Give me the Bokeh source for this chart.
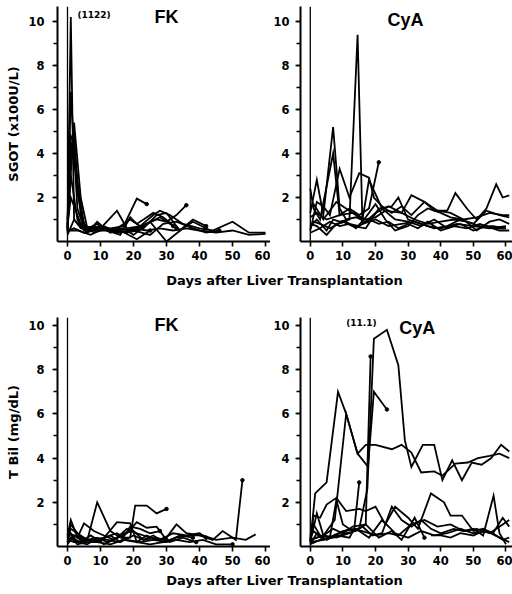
from bokeh.plotting import figure
from bokeh.layouts import column, row
from bokeh.models import Range1d, FixedTicker, Label, Span
from bokeh.embed import file_html
from bokeh.resources import INLINE

# ---------------- data ----------------
x_ticks = [0, 10, 20, 30, 40, 50, 60]
y_major = [2, 4, 6, 8, 10]
y_minor = [1, 2, 3, 4, 5, 6, 7, 8, 9, 10]

# SGOT (x100 U/L), FK group
fk_sgot_days = [
    [0, 1, 2, 4, 7, 10, 14, 18, 21],
    [0, 1, 3, 5, 8, 12, 16, 20, 24, 28, 32],
    [0, 2, 4, 6, 9, 13, 17, 21, 24],
    [0, 1, 2, 4, 6, 10, 15, 18, 22, 27, 30, 33, 36],
    [0, 1, 2, 3, 5, 8, 11, 14, 18, 22, 26, 28, 31, 35, 40, 44, 50, 55, 60],
    [0, 1, 3, 5, 9, 13, 17, 20, 25, 30, 35, 38, 42],
    [0, 2, 5, 8, 12, 16, 20, 24, 28, 32, 36, 40, 45, 50, 55, 60],
    [0, 1, 4, 7, 10, 14, 19, 23, 27, 30, 34, 38, 42],
    [0, 2, 6, 9, 12, 16, 19, 21, 26, 29, 33],
    [0, 3, 7, 11, 15, 20, 25, 29, 33, 38, 42, 46],
    [0, 1, 2, 5, 8, 12, 16, 21, 25],
]
fk_sgot_vals = [
    [0.6, 10.2, 1.0, 0.6, 0.5, 0.6, 0.5, 0.4, 0.5],
    [0.5, 6.8, 1.5, 0.6, 0.7, 0.5, 0.6, 0.5, 0.8, 1.1, 0.7],
    [0.8, 5.4, 2.0, 0.6, 0.5, 0.6, 0.7, 1.95, 1.7],
    [0.5, 4.8, 4.5, 1.2, 0.5, 0.6, 1.4, 0.6, 0.7, 1.0, 0.9, 1.2, 1.65],
    [0.4, 4.0, 4.9, 2.2, 0.7, 0.6, 0.7, 0.5, 0.4, 0.7, 1.2, 1.4, 1.2, 0.8, 0.6, 0.5, 0.9, 0.4, 0.4],
    [0.6, 3.0, 1.0, 0.5, 0.8, 0.4, 0.6, 0.3, 0.9, 0.0, 0.6, 0.9, 0.6],
    [0.5, 0.6, 0.4, 0.5, 0.5, 0.4, 0.6, 0.5, 0.6, 0.5, 0.6, 0.5, 0.4, 0.5, 0.3, 0.35],
    [0.7, 2.0, 0.8, 0.6, 0.7, 0.5, 1.0, 0.6, 1.2, 1.3, 0.5, 1.0, 0.7],
    [0.3, 1.0, 0.4, 0.9, 0.5, 0.3, 1.1, 0.8, 1.3, 1.1, 0.6],
    [0.5, 0.5, 0.3, 0.6, 0.4, 0.5, 0.3, 0.8, 0.9, 0.6, 0.4, 0.5],
    [1.0, 4.5, 3.6, 0.8, 0.4, 0.6, 0.5, 0.1, 0.5],
]

# SGOT (x100 U/L), CyA group
cya_sgot_days = [
    [0, 2, 5, 7, 9, 12, 14.5, 16, 20, 24, 28, 32, 36, 40, 45, 50, 55, 60],
    [0, 2, 4, 7, 9, 11, 14, 17, 20, 24, 28, 32, 36, 40, 44, 48, 52, 56, 60],
    [0, 1, 3, 5, 7, 9, 12, 15, 18, 21],
    [0, 2, 4, 6, 9, 12, 15, 18, 19.5, 22, 25, 28, 31, 35, 38, 42, 44.5, 48, 51, 54, 57, 59, 61],
    [0, 1, 3, 6, 10, 13, 17, 21, 25, 27, 30, 34, 38, 42, 46, 50, 54, 58, 61],
    [0, 2, 5, 8, 11, 14, 17, 20, 23, 26, 30, 33, 36, 40, 43, 47, 51, 55, 58, 61],
    [0, 1, 4, 8, 12, 16, 18, 22, 26, 30, 34, 38, 42, 46, 50, 54, 58, 61],
    [0, 3, 6, 9, 12, 15, 18, 21, 24, 27, 30, 33, 36, 40, 44, 48, 52, 56, 60],
    [0, 2, 5, 9, 13, 17, 20, 23, 28, 31, 35, 39, 43, 47, 51, 55, 59, 61],
]
cya_sgot_vals = [
    [0.7, 1.0, 0.5, 1.0, 0.9, 1.0, 9.4, 0.8, 1.0, 0.7, 0.8, 0.9, 0.7, 0.6, 0.8, 0.7, 0.6, 0.7],
    [1.3, 2.8, 1.2, 5.2, 1.5, 1.0, 1.1, 0.9, 1.3, 1.6, 1.3, 1.0, 0.8, 0.9, 1.0, 0.9, 0.7, 0.7, 0.6],
    [2.4, 1.5, 1.0, 2.5, 4.0, 1.2, 1.5, 1.2, 1.5, 3.6],
    [0.5, 1.8, 1.6, 1.2, 3.3, 2.0, 3.1, 2.9, 2.0, 1.6, 1.3, 1.6, 1.2, 1.8, 1.4, 1.4, 2.2, 1.5, 1.0, 1.5, 2.6, 2.0, 2.1],
    [0.6, 0.9, 0.8, 0.6, 0.9, 0.7, 0.6, 1.5, 1.6, 2.0, 1.0, 0.8, 0.6, 0.7, 1.0, 0.8, 1.4, 1.2, 1.1],
    [0.8, 0.7, 0.3, 0.8, 0.9, 0.6, 1.1, 1.7, 1.0, 0.5, 0.7, 1.2, 1.5, 1.3, 1.1, 1.0, 0.5, 0.9, 1.0, 0.8],
    [1.5, 1.7, 1.0, 1.8, 1.4, 1.0, 2.8, 1.5, 1.0, 0.9, 0.7, 1.0, 0.6, 0.8, 0.5, 0.7, 0.5, 0.5],
    [0.4, 0.6, 0.9, 0.7, 0.8, 0.7, 1.0, 0.8, 0.9, 0.6, 0.8, 0.6, 0.9, 0.5, 0.7, 0.6, 0.8, 0.6, 0.6],
    [1.1, 1.3, 1.0, 1.2, 1.3, 1.0, 1.1, 1.4, 1.3, 2.1, 1.8, 1.4, 1.3, 1.0, 1.1, 1.3, 1.2, 1.2],
]

# T Bil (mg/dL), FK group
fk_tbil_days = [
    [0, 1, 3, 5, 8, 11, 14, 18, 21, 24, 27, 30],
    [0, 2, 6, 9, 13, 16, 19, 20.5, 24, 27, 30],
    [0, 1, 4, 7, 10, 15, 19, 21, 24, 27, 30, 33, 36, 40, 44, 47, 51, 53],
    [0, 2, 5, 8, 12, 16, 20, 23, 26, 29, 33, 37, 41, 45, 50, 54, 57],
    [0, 1, 3, 6, 9, 12, 15, 18, 21, 25, 28, 32, 36, 40, 42],
    [0, 2, 4, 7, 11, 14, 17, 20, 23, 27, 31, 35, 39],
    [0, 1, 3, 6, 9, 13, 17, 21, 25, 29, 33, 37, 41, 45, 50],
    [0, 2, 5, 8, 11, 15, 18, 22, 26, 30, 34, 38],
    [0, 1, 4, 7, 10, 13, 16, 19, 22, 25, 28],
]
fk_tbil_vals = [
    [0.5, 1.2, 0.4, 1.05, 0.7, 0.5, 0.3, 0.6, 1.1, 0.85, 0.9, 0.3],
    [0.3, 0.2, 0.3, 2.0, 0.7, 0.4, 0.4, 1.85, 1.85, 1.5, 1.7],
    [0.2, 1.0, 0.4, 0.3, 0.2, 1.1, 1.05, 0.2, 0.5, 0.3, 0.4, 1.0, 0.6, 0.5, 0.3, 0.7, 0.3, 3.0],
    [0.1, 0.5, 0.2, 0.4, 0.3, 0.2, 0.5, 0.3, 0.5, 0.2, 0.4, 0.5, 0.5, 0.3, 0.4, 0.3, 0.55],
    [0.3, 0.6, 0.2, 0.1, 0.4, 0.2, 0.4, 0.8, 0.6, 0.4, 0.3, 0.6, 0.5, 0.6, 0.4],
    [0.8, 0.3, 0.2, 0.5, 0.1, 0.3, 0.6, 0.7, 0.3, 0.4, 0.2, 0.4, 0.2],
    [0.2, 0.4, 0.1, 0.2, 0.2, 0.1, 0.3, 0.2, 0.1, 0.2, 0.3, 0.2, 0.3, 0.1, 0.1],
    [0.6, 0.5, 0.3, 0.3, 0.4, 0.6, 0.3, 0.2, 0.3, 0.2, 0.5, 0.4],
    [0.4, 0.8, 0.5, 0.2, 0.3, 0.5, 0.2, 0.9, 0.8, 0.6, 0.7],
]

# T Bil (mg/dL), CyA group
cya_tbil_days = [
    [0, 4, 8, 12, 15, 17.5, 19.5, 23.5, 27, 29, 31, 34.5, 38, 40.5, 43.5, 46.5, 49.5, 52.5, 55.5, 58.5, 61],
    [0, 1.5, 5, 8.5, 11, 14.5, 17.7, 19.5, 23.5],
    [0, 4, 7.5, 11, 14.5, 17, 20, 25, 28, 31, 34, 38, 40.5, 44.5, 48.3, 51.4, 55, 58, 61],
    [0, 4, 8, 12, 13.5, 15],
    [0, 3, 7, 11, 14, 17, 18.5],
    [0, 1, 3, 5, 8, 11, 15, 17, 20, 23, 26, 30, 33, 37, 41, 43, 46.5, 50, 53, 56, 59, 61],
    [0, 1, 3, 6, 8, 10, 13, 16, 19, 22, 25, 28, 31, 34, 37, 40, 44, 47, 50, 53, 56.2, 58, 60],
    [0, 2, 4, 7, 10, 13, 17, 21, 25, 28, 32, 35],
    [37, 40, 43, 46, 50, 53, 56, 59, 61],
    [0, 2, 5, 9, 12, 16, 20, 24, 27, 31, 35, 39, 43, 47, 51, 55, 59, 61],
    [0, 1, 4, 7, 10, 14, 18, 22, 26, 30, 34, 38, 42, 46, 50, 54, 58, 61],
]
cya_tbil_vals = [
    [0.3, 0.5, 0.4, 0.6, 0.8, 2.6, 9.4, 9.8, 8.2, 4.8, 3.6, 4.6, 4.6, 3.0, 3.9, 3.0, 3.8, 3.7, 4.0, 4.6, 4.3],
    [0.2, 2.4, 2.9, 7.0, 6.0, 4.2, 3.6, 7.0, 6.2],
    [0.3, 0.5, 1.2, 6.0, 4.2, 4.6, 4.6, 4.4, 4.6, 4.25, 3.35, 3.4, 3.2, 3.75, 3.8, 4.0, 4.1, 4.2, 4.0],
    [0.2, 0.3, 0.5, 0.4, 0.8, 2.9],
    [0.1, 0.3, 0.4, 0.6, 0.7, 1.0, 8.6],
    [0.3, 1.4, 1.3, 1.9, 2.2, 1.6, 1.7, 1.6, 1.8, 1.0, 1.8, 1.3, 0.8, 2.4, 2.0, 1.4, 1.4, 0.7, 0.8, 0.6, 1.3, 0.9],
    [0.5, 1.0, 0.5, 0.4, 2.1, 1.0, 0.7, 0.9, 0.5, 0.6, 1.8, 1.2, 0.9, 1.2, 0.8, 0.6, 0.8, 0.7, 0.8, 0.5, 2.3, 0.6, 0.1],
    [0.2, 1.5, 0.5, 0.8, 0.6, 0.9, 1.0, 0.4, 0.7, 0.3, 1.3, 0.4],
    [0.5, 0.5, 0.4, 0.6, 0.5, 0.7, 0.6, 0.3, 0.4],
    [0.1, 0.6, 0.3, 0.6, 0.8, 0.7, 0.5, 0.6, 0.5, 1.0, 1.2, 0.9, 1.0, 0.7, 0.8, 0.6, 1.0, 1.2],
    [0.4, 0.7, 0.3, 0.5, 0.7, 0.8, 0.4, 1.2, 0.6, 0.4, 0.7, 0.5, 0.6, 0.8, 0.6, 0.7, 0.4, 0.2],
]

# ---------------- styling helpers ----------------
TICK_FONT = "DejaVu Sans"
TITLE_FONT = "Liberation Sans"


def panel(width, height, bl, bt, bb, xr, ytop, dlist, vlist, title, title_x, title_y,
          ylabel=None, note=None, note_x=None, note_y=None, ystand=8):
    p = figure(width=width, height=height, x_range=Range1d(*xr), y_range=Range1d(0, ytop),
               output_backend="svg", toolbar_location=None,
               min_border_left=bl, min_border_right=0, min_border_top=bt, min_border_bottom=bb)
    p.outline_line_color = None
    p.xgrid.grid_line_color = None
    p.ygrid.grid_line_color = None
    p.background_fill_color = "white"
    p.border_fill_color = "white"

    p.add_layout(Span(location=0, dimension="height", line_color="black", line_width=1.3))
    p.multi_line(xs=dlist, ys=vlist, line_color="black", line_width=1.8, line_join="miter")
    ex = [d[-1] for d in dlist if d[-1] < 55]
    ey = [v[-1] for d, v in zip(dlist, vlist) if d[-1] < 55]
    p.scatter(ex, ey, size=3.5, color="black")

    for ax in (p.xaxis[0], p.yaxis[0]):
        ax.axis_line_width = 2
        ax.axis_line_color = "black"
        ax.major_tick_line_width = 1.6
        ax.major_tick_line_color = "black"
        ax.minor_tick_line_color = "black"
        ax.major_tick_in = 0
        ax.major_tick_out = 5
        ax.minor_tick_in = 0
        ax.minor_tick_out = 4
        ax.minor_tick_line_width = 1.6
        ax.major_label_text_font = TICK_FONT
        ax.major_label_text_font_style = "bold"
        ax.major_label_text_font_size = "11.5px"
        ax.major_label_text_color = "black"
    p.xaxis.ticker = FixedTicker(ticks=x_ticks)
    p.xaxis.minor_tick_line_color = None
    p.xaxis.major_label_standoff = 4
    p.yaxis.ticker = FixedTicker(ticks=y_major, minor_ticks=y_minor)
    p.yaxis.major_label_standoff = ystand
    if ylabel:
        p.yaxis.axis_label = ylabel
        p.yaxis.axis_label_text_font = TICK_FONT
        p.yaxis.axis_label_text_font_style = "bold"
        p.yaxis.axis_label_text_font_size = "13px"
        p.yaxis.axis_label_text_color = "black"
        p.yaxis.axis_label_standoff = 4

    p.add_layout(Label(x=title_x, y=title_y, text=title, text_font=TITLE_FONT,
                       text_font_style="bold", text_font_size="18px", text_color="black",
                       text_align="center", text_baseline="middle"))
    if note:
        p.add_layout(Label(x=note_x, y=note_y, text=note, text_font=TICK_FONT,
                           text_font_style="bold", text_font_size="9px", text_color="black",
                           text_align="left", text_baseline="middle"))
    return p


def text_strip(width, height, x, y, text):
    s = figure(width=width, height=height, x_range=Range1d(0, width), y_range=Range1d(0, height),
               output_backend="svg", toolbar_location=None, min_border=0)
    s.axis.visible = False
    s.xgrid.grid_line_color = None
    s.ygrid.grid_line_color = None
    s.outline_line_color = None
    s.add_layout(Label(x=x, y=y, text=text, text_font=TICK_FONT, text_font_style="bold",
                       text_font_size="13px", text_color="black",
                       text_align="center", text_baseline="middle"))
    return s


LX = (-3.03, 61.5)
RX = (-3.0, 62.0)
TOP_Y = 10.68
BOT_Y = 10.36

p1 = panel(270, 266, 57, 6, 25, LX, TOP_Y, fk_sgot_days, fk_sgot_vals, "FK", 30, 10.2,
           ylabel="SGOT (x100U/L)", note="(1122)", note_x=3.0, note_y=10.3)
p2 = panel(242, 266, 26, 6, 25, RX, TOP_Y, cya_sgot_days, cya_sgot_vals, "CyA", 29.2, 10.05, ystand=6)
s1 = text_strip(512, 26, 284, 12, "Days after Liver Transplantation")
p3 = panel(270, 278, 57, 25, 24, LX, BOT_Y, fk_tbil_days, fk_tbil_vals, "FK", 30, 10.0,
           ylabel="T Bil (mg/dL)")
p4 = panel(242, 278, 26, 25, 24, RX, BOT_Y, cya_tbil_days, cya_tbil_vals, "CyA", 32.8, 9.9,
           note="(11.1)", note_x=11.0, note_y=10.1, ystand=6)
s2 = text_strip(512, 22, 284, 12, "Days after Liver Transplantation")

layout = column(row(p1, p2), s1, row(p3, p4), s2)

with open("out.html", "w") as f:
    f.write(file_html(layout, INLINE))
